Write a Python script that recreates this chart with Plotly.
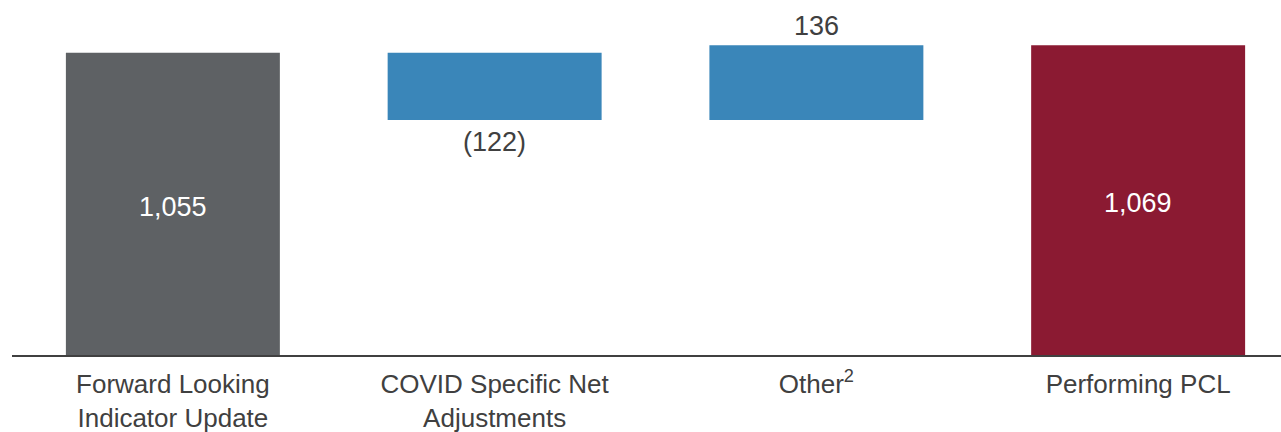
import plotly.graph_objects as go

# PCL walk: opening value, two adjustments, closing total
categories = ["Forward Looking<br>Indicator Update", "COVID Specific Net<br>Adjustments",
              "Other<sup>2</sup>", "Performing PCL"]
measures = ["absolute", "relative", "relative", "total"]
values = [1055, -122, 136, 1069]
bar_colors = ["#5e6164", "#3a86b9", "#3a86b9", "#8b1a32"]

# Derive each bar's base and height from the running total
bases, heights = [], []
running = 0
for m, v in zip(measures, values):
    if m == "absolute":
        start, end = 0, v
    elif m == "total":
        start, end = 0, running
    else:
        start, end = running, running + v
    running = end
    lo, hi = min(start, end), max(start, end)
    bases.append(lo)
    heights.append(hi - lo)

y_min, y_max = 506, 1151

fig = go.Figure(go.Bar(
    x=categories, y=heights, base=bases,
    marker=dict(color=bar_colors, line=dict(width=0)),
    width=0.665, hoverinfo="skip",
))

def fmt(v):
    return f"({abs(v):,})" if v < 0 else f"{v:,}"

font_family = "Arial"
for cat, m, v, b, h in zip(categories, measures, values, bases, heights):
    if m in ("absolute", "total"):
        fig.add_annotation(x=cat, y=(y_min + b + h) / 2, text=fmt(v), showarrow=False,
                           yshift=-3,
                           font=dict(family=font_family, size=27, color="#ffffff"))
    elif v < 0:
        fig.add_annotation(x=cat, y=b, text=fmt(v), showarrow=False, yanchor="top", yshift=-5,
                           font=dict(family=font_family, size=27, color="#404040"))
    else:
        fig.add_annotation(x=cat, y=b + h, text=fmt(v), showarrow=False, yanchor="bottom", yshift=2,
                           font=dict(family=font_family, size=27, color="#404040"))

fig.update_layout(
    width=1281, height=432,
    margin=dict(l=12, r=0, t=0, b=77),
    paper_bgcolor="#ffffff", plot_bgcolor="#ffffff",
    showlegend=False,
    font=dict(family=font_family, color="#404040"),
    xaxis=dict(type="category", range=[-0.5, 3.444], showgrid=False, zeroline=False,
               showline=True, linecolor="#404040", linewidth=1.5,
               tickfont=dict(family=font_family, size=26, color="#404040"),
               ticks="", ticklabelstandoff=5),
    yaxis=dict(range=[y_min, y_max], visible=False, showgrid=False, zeroline=False),
)

fig.write_html("out.html")
